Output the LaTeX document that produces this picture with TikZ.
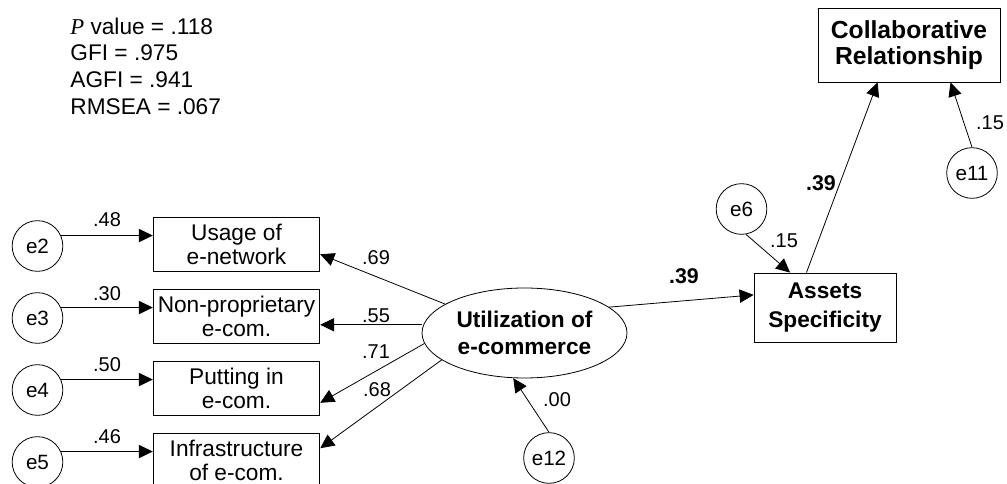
\documentclass[tikz,border=0pt]{standalone}
\usepackage{fontspec}
\setmainfont{Liberation Sans}
\newfontfamily\serifit{Liberation Serif}
\usetikzlibrary{arrows.meta, shapes.geometric}

\begin{document}
\begin{tikzpicture}[x=0.75pt, y=-0.75pt, line width=0.6pt,
  >={Triangle[length=10.5pt, width=10pt]},
  err node/.style={circle,draw,minimum size=38pt,inner sep=0pt,font=\fontsize{15.5}{17}\selectfont},
  obs node/.style={rectangle,draw,minimum width=125pt,minimum height=40.5pt,inner sep=0pt,align=center,font=\fontsize{17}{18}\selectfont},
  fac node/.style={rectangle,draw,inner sep=0pt,align=center,font=\bfseries\fontsize{17}{22}\selectfont},
  lat node/.style={ellipse,draw,minimum width=153.75pt,minimum height=67.5pt,inner sep=0pt,align=center,font=\bfseries\fontsize{17}{20}\selectfont},
  coef/.style={inner sep=0pt,font=\fontsize{15}{17}\selectfont},
  bold coef/.style={inner sep=0pt,font=\bfseries\fontsize{16}{18}\selectfont}]

\useasboundingbox (0,0) rectangle (1007,484);
\clip (0,0) rectangle (1007,484);

% fit indices
\node[anchor=west, align=left, inner sep=0pt, font=\fontsize{17}{20}\selectfont] (fit) at (70,66)
  {{\serifit\itshape P} value = .118\\GFI = .975\\AGFI = .941\\RMSEA = .067};

% indicators
\node[obs node] (usage) at (236.5,244) {Usage of\\e-network};
\node[obs node] (nonprop) at (236.5,316) {Non-proprietary\\e-com.};
\node[obs node] (putting) at (236.5,388) {Putting in\\e-com.};
\node[obs node] (infra) at (236.5,460) {Infrastructure\\of e-com.};

\node[err node] (e2) at (37.5,246) {e2};
\node[err node] (e3) at (37.5,318) {e3};
\node[err node] (e4) at (37.5,390) {e4};
\node[err node] (e5) at (37.5,462) {e5};

% latent and outcomes
\node[lat node] (util) at (524.5,333) {Utilization of\\e-commerce};
\node[err node] (e12) at (549,458) {e12};
\node[fac node, minimum width=106.5pt, minimum height=51.75pt] (assets) at (825,307.5) {Assets\\Specificity};
\node[err node] (e6) at (741.5,209) {e6};
\node[fac node, minimum width=136.5pt, minimum height=55.5pt, font=\bfseries\fontsize{18.5}{20}\selectfont] (collab) at (909,45) {Collaborative\\Relationship};
\node[err node] (e11) at (972,173) {e11};

% error terms
\draw[->] (e2.24) -- (e2.24 -| usage.west);
\draw[->] (e3.24) -- (e3.24 -| nonprop.west);
\draw[->] (e4.24) -- (e4.24 -| putting.west);
\draw[->] (e5.24) -- (e5.24 -| infra.west);
\node[coef] (c48) at (107,220) {.48};
\node[coef] (c30) at (107,294) {.30};
\node[coef] (c50) at (107,365) {.50};
\node[coef] (c46) at (107,437) {.46};

% loadings
\draw[->] (util.160) -- (usage.-7.5);
\draw[->] (util.west |- nonprop.-6) -- (nonprop.-6);
\draw[->] (util.186) -- (putting.-10.2);
\draw[->] (util.198) -- (infra.8.9);
\node[coef] (c69) at (376,258) {.69};
\node[coef] (c55) at (376,316) {.55};
\node[coef] (c71) at (376,352) {.71};
\node[coef] (c68) at (377,390) {.68};

% structural paths
\draw[->] (e12.north) -- (util.256);
\node[coef] (c00) at (557,400) {.00};
\draw[->] (util.17.6) -- (assets.170);
\node[bold coef] (b39a) at (684,276) {.39};
\draw[->] (e6.-80) -- (assets.135);
\node[coef] (c15a) at (784,241) {.15};
\draw[->] (assets.118.8) -- (collab.230);
\node[bold coef] (b39b) at (821,183) {.39};
\draw[->] (e11.north) -- (collab.318);
\node[coef] (c15b) at (990,123) {.15};

\end{tikzpicture}
\end{document}
